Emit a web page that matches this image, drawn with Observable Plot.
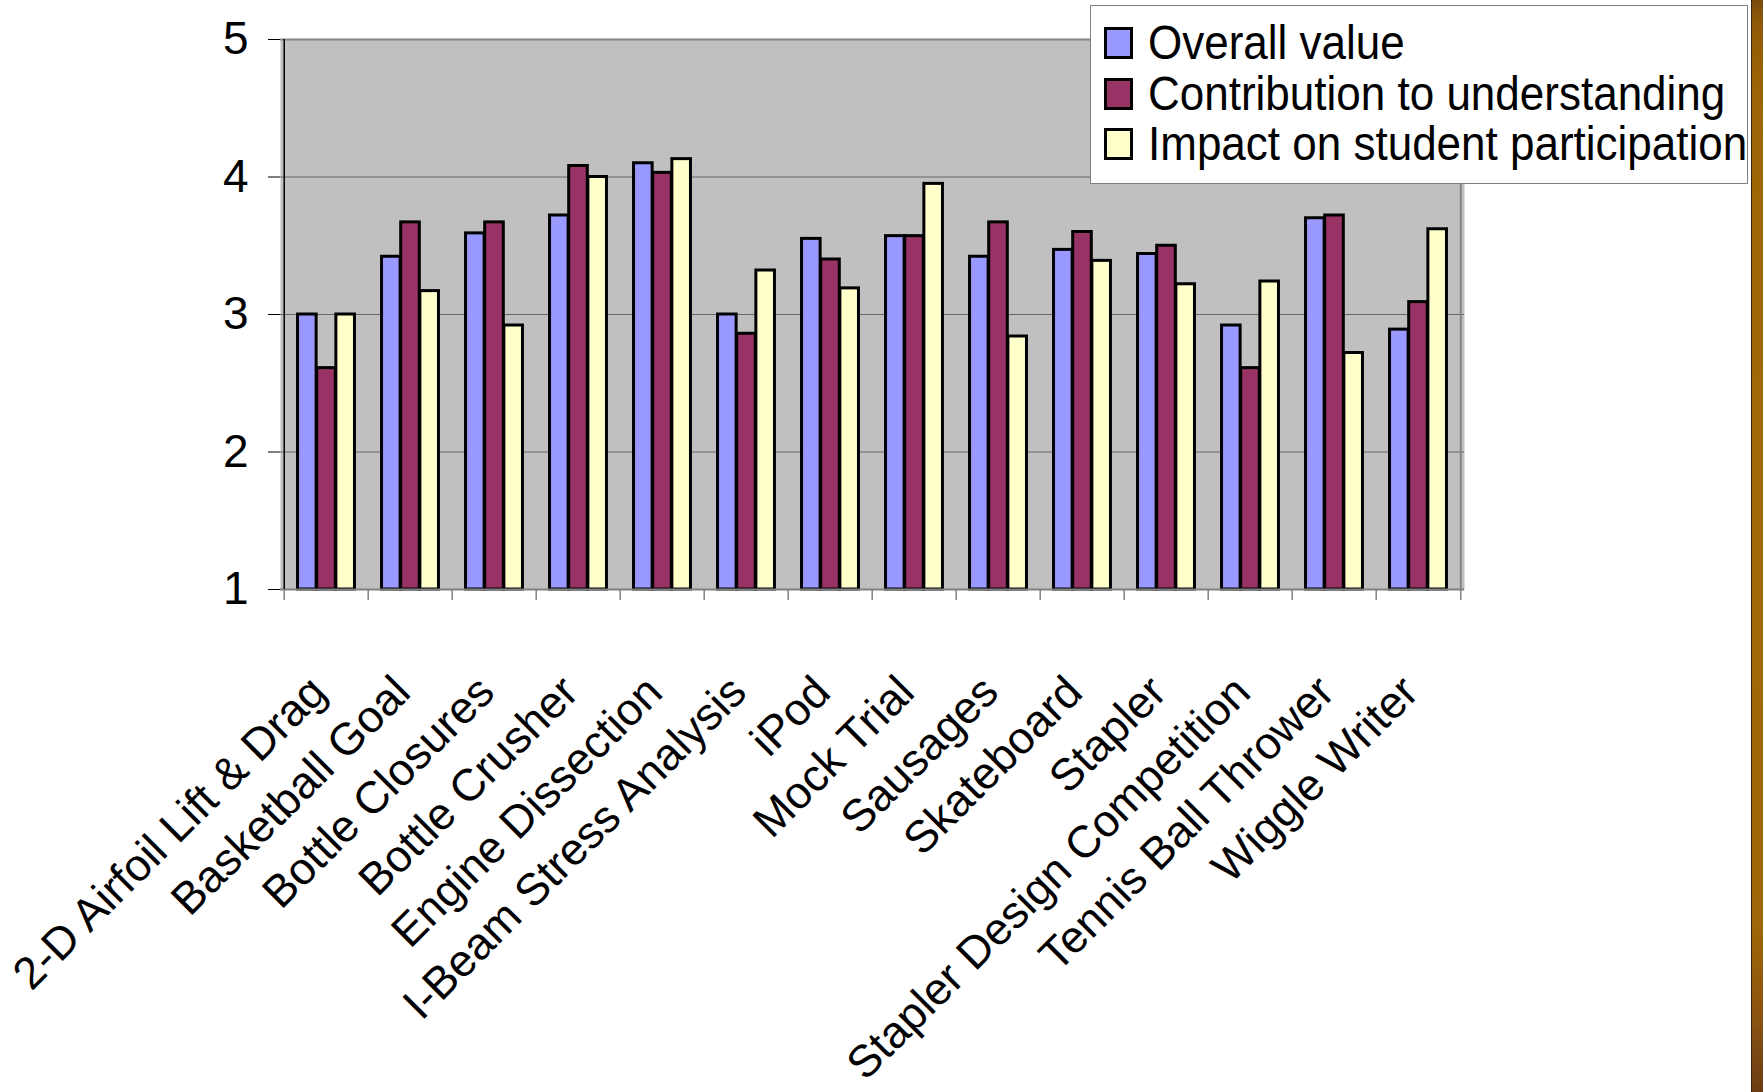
<!DOCTYPE html>
<html>
<head>
<meta charset="utf-8">
<script src="https://cdn.jsdelivr.net/npm/d3@7"></script>
<script src="https://cdn.jsdelivr.net/npm/@observablehq/plot@0.6"></script>
<style>
  html, body { margin: 0; padding: 0; background: #fff; }
  #wrap { position: relative; width: 1763px; height: 1092px; overflow: hidden;
          font-family: "Liberation Sans", Arial, sans-serif; }
  #chart { position: absolute; left: 0; top: 0; }
  #legend { position: absolute; left: 1090px; top: 5px; width: 658px; height: 179px;
            background: #fff; border: 1px solid #808080; box-sizing: border-box; z-index: 2; }
  .sw { position: absolute; left: 13px; width: 29px; height: 32px;
        border: 3px solid #000; box-sizing: border-box; }
  .lt { position: absolute; left: 57px; height: 44px; font-size: 44px; line-height: 44px;
        white-space: nowrap; color: #000; transform: scaleY(1.08); transform-origin: left center; }
  #strip { position: absolute; left: 1751px; top: 0; width: 12px; height: 1092px;
           border-left: 1px solid #3c2506; box-sizing: border-box;
           background: linear-gradient(to bottom, #7a4a0e 0%, #8e5a08 2%, #9c6405 8%, #a26a06 40%,
             #9e6606 85%, #8a5410 93%, #7c4a14 96%, #6c3c12 100%); z-index: 3; }
</style>
</head>
<body>
<div id="wrap">
  <div id="chart"></div>
  <div id="legend"></div>
  <div id="strip"></div>
</div>
<script>
const categories = [
  "2-D Airfoil Lift & Drag", "Basketball Goal", "Bottle Closures", "Bottle Crusher",
  "Engine Dissection", "I-Beam Stress Analysis", "iPod", "Mock Trial", "Sausages",
  "Skateboard", "Stapler", "Stapler Design Competition", "Tennis Ball Thrower", "Wiggle Writer"
];
const overall      = [3.00, 3.42, 3.59, 3.72, 4.10, 3.00, 3.55, 3.57, 3.42, 3.47, 3.44, 2.92, 3.70, 2.89];
const contribution = [2.61, 3.67, 3.67, 4.08, 4.03, 2.86, 3.40, 3.57, 3.67, 3.60, 3.50, 2.61, 3.72, 3.09];
const impact       = [3.00, 3.17, 2.92, 4.00, 4.13, 3.32, 3.19, 3.95, 2.84, 3.39, 3.22, 3.24, 2.72, 3.62];
const seriesNames  = ["Overall value", "Contribution to understanding", "Impact on student participation"];
const seriesColors = ["#9999FF", "#993366", "#FFFFCC"];
const yTicks = [1, 2, 3, 4, 5];

const seriesValues = [overall, contribution, impact];
const table = categories.map((c, i) => ({category: c, values: seriesValues.map(s => s[i])}));

const W = 1763, H = 1092;
const mL = 280, mR = 299, mT = 39, mB = 503;
const bw = (W - mL - mR) / categories.length;
const groupFrac = 0.68;
const barW = bw * groupFrac / 3;
const outer = (bw - 3 * barW) / 2;

const barMarks = seriesNames.map((name, k) =>
  Plot.barY(table, {
    x: "category",
    y1: () => 1,
    y2: d => d.values[k],
    fill: seriesColors[k],
    stroke: "#000",
    strokeWidth: 3,
    insetLeft: outer + k * barW,
    insetRight: bw - outer - (k + 1) * barW
  })
);

const chart = Plot.plot({
  width: W,
  height: H,
  marginLeft: mL,
  marginRight: mR,
  marginTop: mT,
  marginBottom: mB,
  style: {fontFamily: "Liberation Sans, Arial, sans-serif", background: "transparent", color: "#000"},
  x: {type: "band", domain: categories, padding: 0, label: null, axis: null},
  y: {domain: [1, 5], label: null, axis: null},
  marks: [
    Plot.frame({fill: "#C0C0C0", stroke: "none"}),
    Plot.ruleY([2, 3, 4], {stroke: "#666", strokeWidth: 1.2}),
    Plot.ruleY([5], {stroke: "#858585", strokeWidth: 2}),
    Plot.ruleX([categories[categories.length - 1]], {dx: bw / 2, y1: 1, y2: 5, stroke: "#858585", strokeWidth: 2}),
    ...barMarks,
    Plot.ruleY([1], {stroke: "#808080", strokeWidth: 2}),
    Plot.ruleX([categories[0]], {dx: -bw / 2, y1: 1, y2: 5, stroke: "#000", strokeWidth: 1.5}),
    Plot.axisY(yTicks, {tickSize: 12, tickPadding: 20, fontSize: 46, stroke: "#000", fill: "#000",
      tickFormat: d => String(d), label: null}),
    Plot.axisX(categories, {tickSize: 11, dx: -bw / 2, tickFormat: () => "", stroke: "#808080", strokeWidth: 1.5, label: null}),
    Plot.axisX([categories[categories.length - 1]], {tickSize: 11, dx: bw / 2, tickFormat: () => "", stroke: "#808080", strokeWidth: 1.5, label: null}),
    Plot.axisX(categories, {tickSize: 0, tickPadding: 95, tickRotate: -45, fontSize: 45, dx: -8, fill: "#000", label: null})
  ]
});
document.getElementById("chart").appendChild(chart);

// legend
const legend = document.getElementById("legend");
seriesNames.forEach((name, k) => {
  const cy = 37 + k * 50.5;
  const sw = document.createElement("div");
  sw.className = "sw";
  sw.style.top = (cy - 16) + "px";
  sw.style.background = seriesColors[k];
  legend.appendChild(sw);
  const lt = document.createElement("div");
  lt.className = "lt";
  lt.style.top = (cy - 22) + "px";
  lt.textContent = name;
  legend.appendChild(lt);
});
</script>
</body>
</html>
